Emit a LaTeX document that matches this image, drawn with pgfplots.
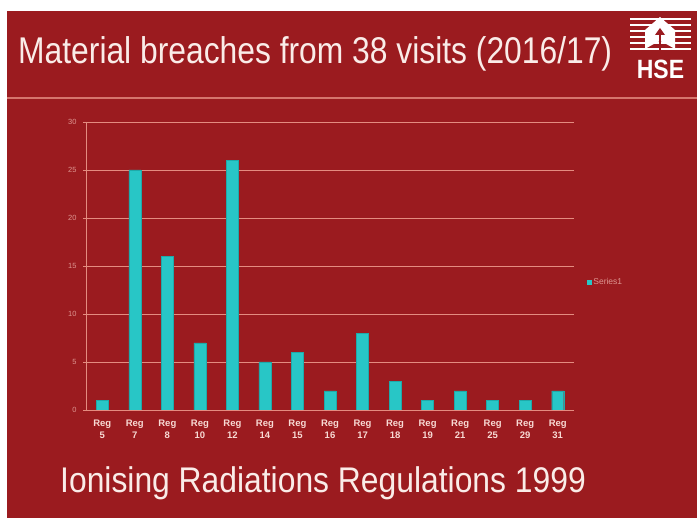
\documentclass[border=0pt]{standalone}
\usepackage{pgfplots}
\pgfplotsset{compat=1.18}
\usepackage{fontspec}
\setmainfont{Liberation Sans}
\definecolor{bg}{RGB}{155,27,31}
\definecolor{barc}{RGB}{40,198,198}
\definecolor{barline}{RGB}{30,170,170}
\definecolor{gridc}{RGB}{228,140,128}
\definecolor{ticklab}{RGB}{222,150,145}
\definecolor{catlab}{RGB}{248,218,212}
\definecolor{titlec}{RGB}{250,236,232}
\begin{document}
\begin{tikzpicture}[x=1pt,y=1pt]
\useasboundingbox (0,0) rectangle (697,519);
\fill[white] (0,0) rectangle (697,519);
\fill[bg] (7,1) rectangle (697,508);
\draw[gridc!80!bg, line width=1.5pt] (7,421) -- (697,421);
\node[anchor=base west, text=titlec, inner sep=0pt, xscale=1.026, yscale=1.2, font=\fontsize{31}{34}\selectfont] at (18,455) {Material breaches from 38 visits (2016/17)};
\node[anchor=base west, text=titlec, inner sep=0pt, xscale=1.027, yscale=1.15, font=\fontsize{31}{34}\selectfont] at (60,26) {Ionising Radiations Regulations 1999};
% HSE logo
\foreach \yy in {501,495,489,483,477,471} {\fill[white] (630,\yy) rectangle (691,\yy-2.5);}
\fill[white] (645,470) -- (645,489) -- (660,502) -- (675,489) -- (675,470) -- (668,474) -- (660,478) -- (652,474) -- cycle;
\fill[bg] (659,466) rectangle (661,486);
\fill[bg] (655,484) -- (660,491) -- (665,484) -- cycle;
\node[anchor=base, text=white, inner sep=0pt, yscale=1.15, font=\bfseries\fontsize{23}{24}\selectfont] at (660.5,440) {HSE};
\begin{axis}[
    at={(86pt,109pt)}, anchor=south west,
    scale only axis, width=488pt, height=288pt,
    ybar, bar width=12pt,
    xmin=-0.5, xmax=14.5, ymin=0, ymax=30,
    ytick={0,5,...,30},
    xtick={0,...,14},
    xticklabels={Reg\\5,Reg\\7,Reg\\8,Reg\\10,Reg\\12,Reg\\14,Reg\\15,Reg\\16,Reg\\17,Reg\\18,Reg\\19,Reg\\21,Reg\\25,Reg\\29,Reg\\31},
    x tick label style={align=center, text=catlab, font=\bfseries\fontsize{9.5}{11.5}\selectfont, inner sep=1pt, yshift=-6pt},
    y tick label style={text=ticklab, font=\fontsize{7.5}{8}\selectfont, xshift=-3pt},
    /pgf/number format/assume math mode=true,
    major x tick style={draw=none},
    extra x ticks={-0.5,0.5,...,14.5},
    extra x tick labels={},
    extra x tick style={major tick length=3pt, tick align=outside, major tick style={draw=gridc}},
    ytick style={draw=gridc}, tick align=outside, major tick length=3pt,
    axis x line*=bottom, axis y line*=left,
    axis line style={draw=gridc, line width=0.8pt},
    ymajorgrids, grid style={draw=gridc, line width=0.8pt},
    legend style={at={(rel axis cs:1.02,0.445)}, anchor=west, fill=none, draw=none,
        text=ticklab, font=\fontsize{8.5}{9}\selectfont},
    legend image code/.code={\fill[barc] (0pt,-2pt) rectangle (4pt,2pt);},
    ]
\addplot[fill=barc, draw=barline] coordinates {
(0,1) (1,25) (2,16) (3,7) (4,26) (5,5) (6,6) (7,2) (8,8) (9,3) (10,1) (11,2) (12,1) (13,1) (14,2)};
\legend{Series1}
\end{axis}
\end{tikzpicture}
\end{document}
